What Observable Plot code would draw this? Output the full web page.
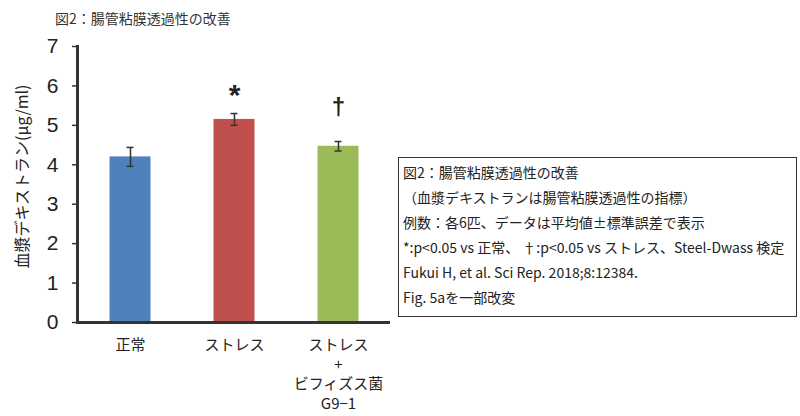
<!DOCTYPE html>
<html>
<head>
<meta charset="utf-8">
<script src="https://cdn.jsdelivr.net/npm/d3@7"></script>
<script src="https://cdn.jsdelivr.net/npm/@observablehq/plot@0.6"></script>
<style>
  body { margin: 0; background: #fff; font-family: "Noto Sans CJK JP", "Noto Sans", sans-serif; }
  #wrap { position: relative; width: 800px; height: 416px; overflow: hidden; }
  #title { height: 30px; line-height: 36px; padding-left: 55px; font-size: 14px; color: #333; white-space: nowrap; }
  #box { position: absolute; left: 398px; top: 157px; width: 399px; height: 160px; border: 1.2px solid #333;
         box-sizing: border-box; padding: 2px 0 0 4px; font-size: 14px; line-height: 25px; color: #222; white-space: nowrap; }
</style>
</head>
<body>
<div id="wrap">
  <div id="title"></div>
  <div id="chart"></div>
  <div id="box"></div>
</div>
<script>
const titleText = "図2：腸管粘膜透過性の改善";
const categories = ["正常", "ストレス", "ストレス\n+\nビフィズス菌\nG9−1"];
const means = [4.20, 5.15, 4.47];
const errors = [0.24, 0.15, 0.12];
const colors = ["#4F81BD", "#C0504D", "#9BBB59"];
const sigMarks = ["", "*", "†"];
const sigY = [null, 5.92, 5.45];
const yTicks = [0, 1, 2, 3, 4, 5, 6, 7];
const yLabel = "血漿デキストラン(μg/ml)";
const noteLines = [
  "図2：腸管粘膜透過性の改善",
  "（血漿デキストランは腸管粘膜透過性の指標）",
  "例数：各6匹、データは平均値±標準誤差で表示",
  "*:p<0.05 vs 正常、 †:p<0.05 vs ストレス、Steel-Dwass 検定",
  "Fukui H, et al. Sci Rep. 2018;8:12384.",
  "Fig. 5aを一部改変"
];

document.getElementById("title").textContent = titleText;
document.getElementById("box").innerHTML = noteLines.map(s => `<div>${s.replace(/&/g,"&amp;").replace(/</g,"&lt;")}</div>`).join("");

const data = categories.map((c, i) => ({
  cat: c, mean: means[i], err: errors[i], color: colors[i],
  lo: means[i] - errors[i], hi: means[i] + errors[i],
  mark: sigMarks[i], my: sigY[i]
}));

const chart = Plot.plot({
  width: 800,
  height: 386,
  marginLeft: 77,
  marginRight: 410,
  marginTop: 16,
  marginBottom: 94,
  style: { fontFamily: "'Liberation Sans', Arial, sans-serif", color: "#222", background: "white" },
  x: { domain: categories, padding: 0 },
  y: { domain: [0, 7] },
  marks: [
    Plot.barY(data, { x: "cat", y: "mean", fill: "color", insetLeft: 31.5, insetRight: 31.5 }),
    Plot.ruleX(data, { x: "cat", y1: "lo", y2: "hi", stroke: "#333", strokeWidth: 1.5 }),
    Plot.tickY(data, { x: "cat", y: "lo", stroke: "#333", strokeWidth: 1.5, insetLeft: 48.5, insetRight: 48.5 }),
    Plot.tickY(data, { x: "cat", y: "hi", stroke: "#333", strokeWidth: 1.5, insetLeft: 48.5, insetRight: 48.5 }),
    Plot.text(data.filter(d => d.mark === "*"), { x: "cat", y: "my", text: "mark", fontSize: 30, fontWeight: "bold", fill: "#222", lineAnchor: "middle", dy: 6 }),
    Plot.text(data.filter(d => d.mark === "†"), { x: "cat", y: "my", text: "mark", fontSize: 24, fontWeight: "bold", fill: "#222", lineAnchor: "middle" }),
    Plot.axisY({ ticks: yTicks, tickSize: 5, tickPadding: 14, fontSize: 21, label: null, tickFormat: d => String(d), stroke: "#333", strokeWidth: 1.5 }),
    Plot.axisX({ tickSize: 0, tickPadding: 14, fontSize: 15, label: null, lineHeight: 1.3, fontFamily: "'Noto Sans CJK JP', sans-serif" }),
    Plot.ruleY([0], { stroke: "#333", strokeWidth: 3 }),
    Plot.frame({ anchor: "left", stroke: "#333", strokeWidth: 3 }),
    Plot.text([yLabel], { frameAnchor: "left", textAnchor: "middle", rotate: -90, dx: -55, dy: -8, fontSize: 16, fill: "#222", fontFamily: "'Noto Sans CJK JP', sans-serif" })
  ]
});
document.getElementById("chart").appendChild(chart);
</script>
</body>
</html>
